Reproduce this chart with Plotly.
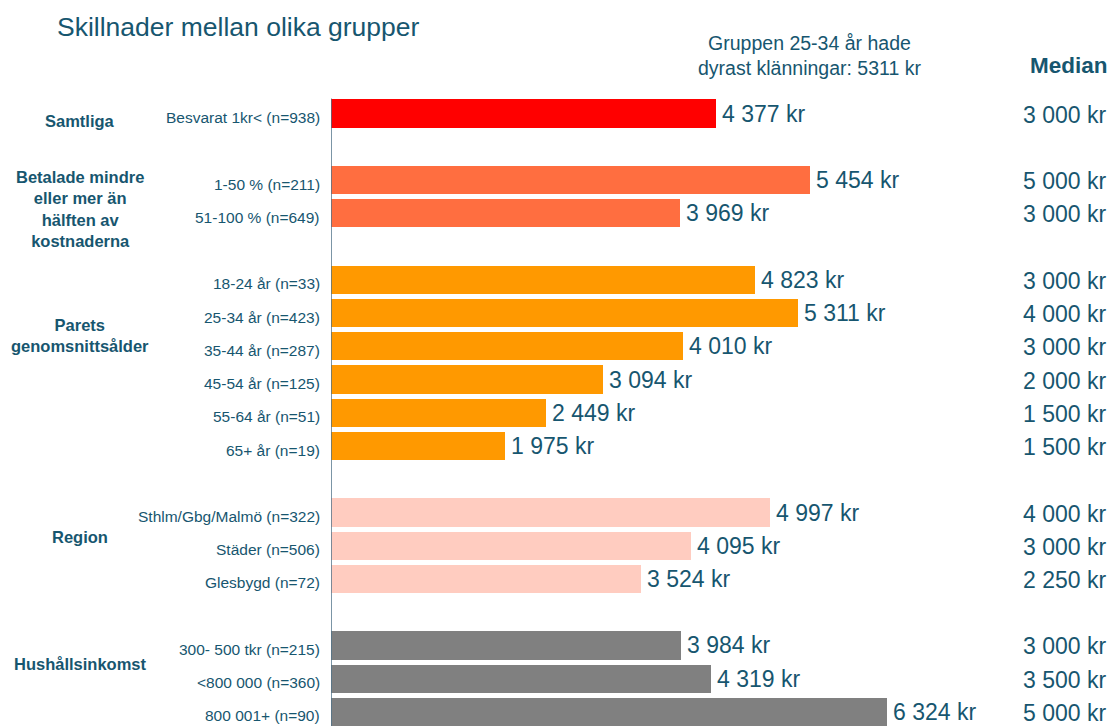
import plotly.graph_objects as go

# ---- data ----
groups = ["Samtliga", "Betalade mindre<br>eller mer än<br>hälften av<br>kostnaderna",
          "Parets<br>genomsnittsålder", "Region", "Hushållsinkomst"]
group_colors = ["#FF0000", "#FF6E40", "#FF9900", "#FFCCC0", "#808080"]
categories = [
    ["Besvarat 1kr< (n=938)"],
    ["1-50 % (n=211)", "51-100 % (n=649)"],
    ["18-24 år (n=33)", "25-34 år (n=423)", "35-44 år (n=287)", "45-54 år (n=125)",
     "55-64 år (n=51)", "65+ år (n=19)"],
    ["Sthlm/Gbg/Malmö (n=322)", "Städer (n=506)", "Glesbygd (n=72)"],
    ["300- 500 tkr (n=215)", "<800 000 (n=360)", "800 001+ (n=90)"],
]
means = [
    [4377],
    [5454, 3969],
    [4823, 5311, 4010, 3094, 2449, 1975],
    [4997, 4095, 3524],
    [3984, 4319, 6324],
]
medians = [
    [3000],
    [5000, 3000],
    [3000, 4000, 3000, 2000, 1500, 1500],
    [4000, 3000, 2250],
    [3000, 3500, 5000],
]

title_text = "Skillnader mellan olika grupper"
note_text = "Gruppen 25-34 år hade<br>dyrast klänningar: 5311 kr"

TXT = "#17566F"
FONT = "Liberation Sans, Arial, sans-serif"

def kr(v):
    return f"{v:,}".replace(",", " ") + " kr"

# slots: each group followed by one empty slot
ys, xs, cols, labels, meds, grp_centers = [], [], [], [], [], []
slot = 0
for gi, cats in enumerate(categories):
    start = slot
    for ci, c in enumerate(cats):
        ys.append(slot)
        xs.append(means[gi][ci])
        cols.append(group_colors[gi])
        labels.append(c)
        meds.append(medians[gi][ci])
        slot += 1
    grp_centers.append((start + slot - 1) / 2)
    slot += 1

fig = go.Figure()
fig.add_trace(go.Bar(
    x=xs, y=ys, orientation="h", marker=dict(color=cols, line=dict(width=0)),
    width=0.85, hoverinfo="skip", showlegend=False,
))

W_LEFT = 331
PLOT_W = 775
def px_to_paper_x(px):
    return (px - W_LEFT) / PLOT_W

TOP = 97.4
H = 726
PLOT_H = H - TOP
def px_to_paper_y(py):
    return (H - py) / PLOT_H

ann = []
for y, x, lab, m in zip(ys, xs, labels, meds):
    ann.append(dict(x=x, y=y, xref="x", yref="y", text=kr(x), xanchor="left",
                    yanchor="middle", xshift=4, showarrow=False,
                    font=dict(size=23, color=TXT, family=FONT)))
    ann.append(dict(x=px_to_paper_x(322), y=y, xref="paper", yref="y", text=lab,
                    xanchor="right", yanchor="middle", yshift=-4, showarrow=False,
                    font=dict(size=15.5, color=TXT, family=FONT)))
    ann.append(dict(x=px_to_paper_x(1108), y=y, xref="paper", yref="y", text=kr(m),
                    xanchor="right", yanchor="middle", yshift=-1, showarrow=False,
                    font=dict(size=23, color=TXT, family=FONT)))

grp_offsets = [-7, -12, 27, 9, 15]
for g, c, off in zip(groups, grp_centers, grp_offsets):
    ann.append(dict(x=px_to_paper_x(80), y=c, xref="paper", yref="y",
                    text=f"<b>{g}</b>", xanchor="center", yanchor="middle",
                    yshift=off, showarrow=False, align="center",
                    font=dict(size=16.5, color=TXT, family=FONT)))

ann.append(dict(x=px_to_paper_x(55), y=px_to_paper_y(27), xref="paper", yref="paper",
                text=title_text, xanchor="left", yanchor="middle", showarrow=False,
                font=dict(size=26.5, color=TXT, family=FONT)))
ann.append(dict(x=px_to_paper_x(809), y=px_to_paper_y(55.5), xref="paper", yref="paper",
                text=note_text, xanchor="center", yanchor="middle", showarrow=False,
                align="center", font=dict(size=19.5, color=TXT, family=FONT)))
ann.append(dict(x=px_to_paper_x(1110), y=px_to_paper_y(66), xref="paper", yref="paper",
                text="<b>Median</b>", xanchor="right", yanchor="middle", showarrow=False,
                font=dict(size=22.5, color=TXT, family=FONT)))

x_max = PLOT_W / 0.0879
fig.update_layout(
    width=1112, height=726,
    margin=dict(l=W_LEFT, r=1112 - W_LEFT - PLOT_W, t=TOP, b=0),
    paper_bgcolor="white", plot_bgcolor="white",
    xaxis=dict(range=[0, x_max], visible=False, fixedrange=True),
    yaxis=dict(range=[(H - 114) / 33.22, -0.5], visible=False, fixedrange=True),
    annotations=ann,
    bargap=0,
    shapes=[dict(type="line", xref="x", yref="paper", x0=0, x1=0,
                 y0=0, y1=px_to_paper_y(99), line=dict(color="#4F7288", width=1.5),
                 layer="above")],
    font=dict(family=FONT, color=TXT),
)

fig.write_html("out.html", config={"displayModeBar": False},
               post_script="document.body.style.margin='0';document.body.style.overflow='hidden';")
